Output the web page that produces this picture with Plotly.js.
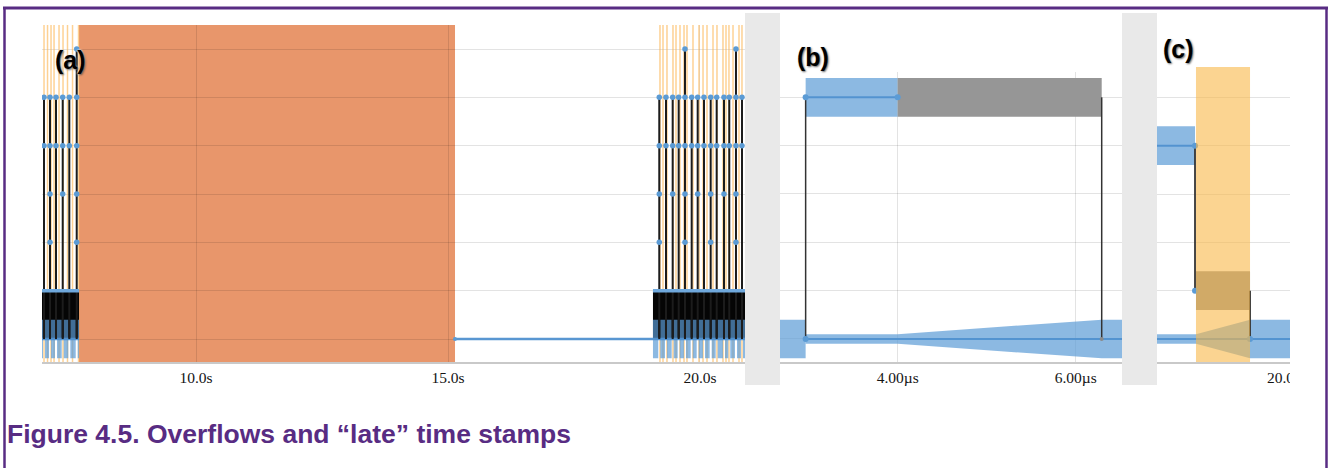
<!DOCTYPE html>
<html><head><meta charset="utf-8">
<script src="https://cdn.plot.ly/plotly-3.0.1.min.js"></script>
<style>html,body{margin:0;padding:0;background:#fff;} #chart{width:1330px;height:468px;}</style>
</head><body><div id="chart"></div>
<script>
// ---------------- data ----------------
// panel (a): seconds
const aTickVals = [10, 15, 20];
const aTickText = ['10.0s', '15.0s', '20.0s'];
const aRange = [6.944, 20.893];
const aYRange = [-0.476, 6.497];
const levelGrid = [0, 1, 2, 3, 4, 5, 6];
const aSpikeT = [6.984, 7.103, 7.222, 7.355, 7.486, 7.633,
  19.192, 19.325, 19.458, 19.577, 19.702, 19.835, 19.954, 20.079, 20.212, 20.331, 20.476, 20.581, 20.714, 20.833];
const aSpikeTop = [5, 5, 5, 5, 5, 6,
  5, 5, 5, 5, 6, 5, 5, 5, 5, 5, 5, 5, 6, 5];
const aSpikeMinDot = [4, 2, 4, 3, 4, 2,
  2, 4, 3, 4, 2, 4, 3, 4, 2, 4, 3, 4, 2, 4];
const aClusterStart = [6.944, 19.067];
const aClusterEnd = [7.679, 20.893];
const aMarkT = [6.984, 7.054, 7.123, 7.183, 7.282, 7.361, 7.450, 7.550, 7.669,
  19.206, 19.266, 19.345, 19.464, 19.524, 19.603, 19.683, 19.742, 19.861, 19.980,
  20.060, 20.139, 20.258, 20.337, 20.456, 20.516, 20.575, 20.655, 20.774, 20.833];
const aOverflow = [7.679, 15.139];
const aIdle = [15.139, 19.067];

// panel (b): microseconds
const bRange = [2.678, 6.520];
const bYRange = [-0.476, 5.524];
const bTickVals = [4, 6];
const bTickText = ['4.00µs', '6.00µs'];
const bEventT = [2.966, 4.0, 6.292];
const bLevels = [0, 5];

// panel (c)
const cRange = [18.528, 20.022];
const cYRange = [-0.476, 5.628];
const cTickVals = [20];
const cTickText = ['20.0µs'];
const cEventT = [18.955, 18.966, 19.573];
const cLevels = [0, 1, 4];

// ---------------- styling ----------------
const W = 1330, H = 468;
const px = v => v / W, py = v => 1 - v / H;
const bandHalf = 0.4, narrowHalf = 0.1, gapT = 0.02;
const BLUE = 'rgba(91,155,213,0.7)';
const BLUE_LINE = 'rgba(80,145,208,0.95)';
const DOT = '#5b9bd5';
const GREY = '#969696';
const PURPLE = '#582c83';

function rectXY(x0, x1, y0, y1) { return {x: [x0, x1, x1, x0, x0], y: [y0, y0, y1, y1, y0]}; }
function joinPolys(list) {
  const x = [], y = [];
  list.forEach(p => { x.push(...p.x, null); y.push(...p.y, null); });
  return {x, y};
}
function vlines(xs, y0s, y1s) {
  const x = [], y = [];
  xs.forEach((t, i) => { x.push(t, t, null); y.push(y0s[i], y1s[i], null); });
  return {x, y};
}
function fillTrace(poly, color, xa, ya) {
  return {type: 'scatter', mode: 'lines', x: poly.x, y: poly.y, fill: 'toself', fillcolor: color,
    line: {width: 0, color: color}, xaxis: xa, yaxis: ya, hoverinfo: 'skip', showlegend: false};
}
function lineTrace(xy, color, width, xa, ya) {
  return {type: 'scatter', mode: 'lines', x: xy.x, y: xy.y, line: {color: color, width: width},
    xaxis: xa, yaxis: ya, hoverinfo: 'skip', showlegend: false, connectgaps: false};
}
function dotTrace(xs, ys, color, size, xa, ya) {
  return {type: 'scatter', mode: 'markers', x: xs, y: ys, marker: {color: color, size: size},
    xaxis: xa, yaxis: ya, hoverinfo: 'skip', showlegend: false};
}

const traces = [];

// ---- panel (a) ----
traces.push(lineTrace(vlines(aMarkT, aMarkT.map(() => aYRange[0]), aMarkT.map(() => aYRange[1])),
  'rgba(252,178,76,0.6)', 1.5, 'x', 'y'));
traces.push(fillTrace(joinPolys(aClusterStart.map((s, i) => rectXY(s, aClusterEnd[i], 0, 1))), '#050505', 'x', 'y'));
const stripes = [];
aClusterStart.forEach((s, ci) => {
  const e = aClusterEnd[ci];
  const inside = aSpikeT.filter(t => t > s && t < e);
  const bounds = [s, ...inside, e];
  for (let k = 0; k < bounds.length - 1; k++) {
    const x0 = bounds[k] + (k === 0 ? 0 : gapT);
    const x1 = bounds[k + 1] - (k === bounds.length - 2 ? 0 : gapT);
    stripes.push(rectXY(x0, x1, -bandHalf, bandHalf));
  }
});
traces.push(fillTrace(joinPolys(stripes), BLUE, 'x', 'y'));
traces.push(lineTrace({x: [aClusterStart[0], aClusterEnd[0], null, aIdle[0], aClusterEnd[1]], y: [0, 0, null, 0, 0]},
  BLUE_LINE, 2.5, 'x', 'y'));
traces.push(lineTrace(vlines(aSpikeT, aSpikeT.map(() => 0), aSpikeTop), '#1c1c1c', 2, 'x', 'y'));
traces.push(lineTrace({x: [aClusterStart[0], aClusterEnd[0], null, aClusterStart[1], aClusterEnd[1]], y: [1, 1, null, 1, 1]},
  '#6fa8dc', 3.5, 'x', 'y'));
const dx = [], dy = [];
aSpikeT.forEach((t, i) => {
  for (let l = aSpikeMinDot[i]; l <= 5; l++) { dx.push(t); dy.push(l); }
  if (aSpikeTop[i] > 5) { dx.push(t); dy.push(aSpikeTop[i]); }
});
traces.push(dotTrace(dx, dy, DOT, 5.5, 'x', 'y'));
traces.push(dotTrace([aIdle[0]], [0], DOT, 4, 'x', 'y'));

// ---- panel (b) ----
const [b0, b1, b2] = bEventT;
const bLo = bLevels[0], bHi = bLevels[1];
traces.push(fillTrace(rectXY(bRange[0], b0, bLo - bandHalf, bLo + bandHalf), BLUE, 'x2', 'y2'));
traces.push(fillTrace({x: [b0, b1, b2, bRange[1], bRange[1], b2, b1, b0, b0],
  y: [bLo + narrowHalf, bLo + narrowHalf, bLo + bandHalf, bLo + bandHalf, bLo - bandHalf, bLo - bandHalf, bLo - narrowHalf, bLo - narrowHalf, bLo + narrowHalf]},
  BLUE, 'x2', 'y2'));
traces.push(lineTrace({x: [b0, bRange[1]], y: [bLo, bLo]}, BLUE_LINE, 2, 'x2', 'y2'));
traces.push(fillTrace(rectXY(b0, b1, bHi - bandHalf, bHi + bandHalf), BLUE, 'x2', 'y2'));
traces.push(fillTrace(rectXY(b1, b2, bHi - bandHalf, bHi + bandHalf), GREY, 'x2', 'y2'));
traces.push(lineTrace({x: [b0, b1], y: [bHi, bHi]}, BLUE_LINE, 2, 'x2', 'y2'));
traces.push(lineTrace(vlines([b0, b2], [bLo, bLo], [bHi, bHi]), '#333', 1.5, 'x2', 'y2'));
traces.push(dotTrace([b0, b0, b1], [bLo, bHi, bHi], DOT, 6, 'x2', 'y2'));
traces.push(dotTrace([b2], [bLo], '#8a8a8a', 4, 'x2', 'y2'));

// ---- panel (c) ----
const [c0, c1, c2] = cEventT;
const [cL0, cL1, cL4] = cLevels;
traces.push(fillTrace(rectXY(cRange[0], c0, cL4 - bandHalf, cL4 + bandHalf), BLUE, 'x3', 'y3'));
traces.push(lineTrace({x: [cRange[0], c0], y: [cL4, cL4]}, BLUE_LINE, 2, 'x3', 'y3'));
traces.push(fillTrace(rectXY(c1, c2, cL1 - bandHalf, cL1 + bandHalf), GREY, 'x3', 'y3'));
traces.push(fillTrace({x: [cRange[0], c1, c2, cRange[1], cRange[1], c2, c1, cRange[0], cRange[0]],
  y: [cL0 + narrowHalf, cL0 + narrowHalf, cL0 + bandHalf, cL0 + bandHalf, cL0 - bandHalf, cL0 - bandHalf, cL0 - narrowHalf, cL0 - narrowHalf, cL0 + narrowHalf]},
  BLUE, 'x3', 'y3'));
traces.push(lineTrace({x: [cRange[0], cRange[1]], y: [cL0, cL0]}, BLUE_LINE, 2, 'x3', 'y3'));
traces.push(lineTrace(vlines([c0, c2], [cL4, cL1], [cL1, cL0]), '#333', 1.8, 'x3', 'y3'));
traces.push(dotTrace([c0, c0, c2], [cL4, cL1, cL0], DOT, 6, 'x3', 'y3'));
traces.push(fillTrace(rectXY(c1, c2, cYRange[0], cYRange[1]), 'rgba(248,183,72,0.6)', 'x3', 'y3'));

// ---------------- layout ----------------
const GRID = 'rgba(0,0,0,0.11)';
const tickFont = {family: 'Liberation Serif, Times New Roman, serif', size: 15.5, color: '#141414'};
const yBottom = py(362);
function xAxis(domain, range, vals, text, anchor, grid) {
  return {domain, range, tickvals: vals, ticktext: text, anchor, showgrid: grid, gridcolor: GRID, gridwidth: 1,
    zeroline: false, showline: true, linecolor: '#c9c9c9', linewidth: 2, ticks: '', tickfont: tickFont,
    fixedrange: true};
}
function yAxis(domain, range, anchor) {
  return {domain, range, anchor, tickvals: levelGrid, showticklabels: false, showgrid: true, gridcolor: GRID,
    gridwidth: 1, zeroline: false, showline: false, ticks: '', fixedrange: true};
}

const shapes = [
  {type: 'rect', xref: 'x', yref: 'y', x0: aOverflow[0], x1: aOverflow[1], y0: aYRange[0], y1: aYRange[1],
    fillcolor: '#e8966b', line: {width: 0}, layer: 'below'},
  {type: 'rect', xref: 'paper', yref: 'paper', x0: px(745), x1: px(780), y0: py(385), y1: py(13),
    fillcolor: '#e9e9e9', line: {width: 0}, layer: 'below'},
  {type: 'rect', xref: 'paper', yref: 'paper', x0: px(1122), x1: px(1157), y0: py(385), y1: py(13),
    fillcolor: '#e9e9e9', line: {width: 0}, layer: 'below'},
  {type: 'rect', xref: 'paper', yref: 'paper', x0: px(1290), x1: px(1323), y0: py(395), y1: py(364),
    fillcolor: '#ffffff', line: {width: 0}, layer: 'above'},
  {type: 'line', xref: 'paper', yref: 'paper', x0: px(3), x1: px(1328), y0: py(8), y1: py(8),
    line: {color: PURPLE, width: 3}, layer: 'above'},
  {type: 'line', xref: 'paper', yref: 'paper', x0: px(4.5), x1: px(4.5), y0: 0, y1: py(8),
    line: {color: PURPLE, width: 2.5}, layer: 'above'},
  {type: 'line', xref: 'paper', yref: 'paper', x0: px(1326.5), x1: px(1326.5), y0: 0, y1: py(8),
    line: {color: PURPLE, width: 2.5}, layer: 'above'}
];

const labelFont = {family: 'Liberation Sans, Arial, sans-serif', size: 25, color: '#000',
  shadow: '1px 1px 2px rgba(0,0,0,0.6), 0 0 2px #fff, 0 0 2px #fff'};
const annotations = [
  {text: '<b>(a)</b>', x: px(53), y: py(44), xref: 'paper', yref: 'paper', xanchor: 'left', showarrow: false, font: labelFont},
  {text: '<b>(b)</b>', x: px(795), y: py(41), xref: 'paper', yref: 'paper', xanchor: 'left', showarrow: false, font: labelFont},
  {text: '<b>(c)</b>', x: px(1161), y: py(33), xref: 'paper', yref: 'paper', xanchor: 'left', showarrow: false, font: labelFont},
  {text: '<b>Figure 4.5. Overflows and “late” time stamps</b>', x: px(5), y: py(434), xref: 'paper', yref: 'paper',
    xanchor: 'left', yanchor: 'middle', showarrow: false,
    font: {family: 'Liberation Sans, Arial, sans-serif', size: 26.5, color: PURPLE}}
];

const layout = {
  width: W, height: H, margin: {l: 0, r: 0, t: 0, b: 0},
  paper_bgcolor: '#ffffff', plot_bgcolor: 'rgba(0,0,0,0)', showlegend: false,
  xaxis: xAxis([px(42), px(745)], aRange, aTickVals, aTickText, 'y', true),
  yaxis: yAxis([yBottom, py(25)], aYRange, 'x'),
  xaxis2: xAxis([px(780), px(1122)], bRange, bTickVals, bTickText, 'y2', true),
  yaxis2: yAxis([yBottom, py(72)], bYRange, 'x2'),
  xaxis3: xAxis([px(1157), px(1290)], cRange, cTickVals, cTickText, 'y3', false),
  yaxis3: yAxis([yBottom, py(67)], cYRange, 'x3'),
  shapes, annotations
};

Plotly.newPlot('chart', traces, layout, {displayModeBar: false, staticPlot: true});
</script></body></html>
